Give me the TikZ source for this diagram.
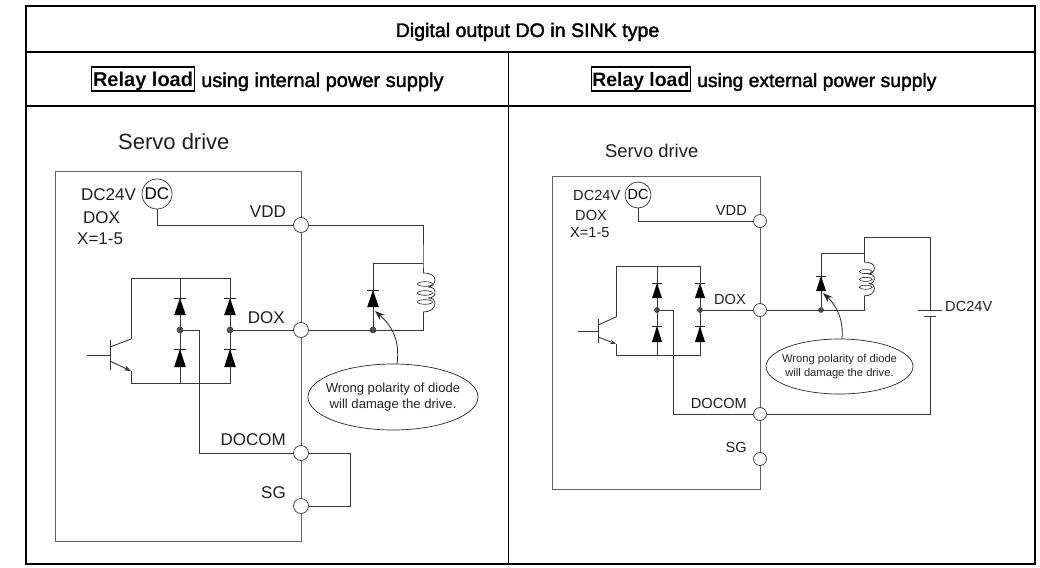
\documentclass[tikz,border=0pt]{standalone}
\usepackage{fontspec}
\setmainfont{Liberation Sans}
\newfontfamily\headfont[FakeBold=1.8]{Liberation Sans}
\usetikzlibrary{shapes.geometric,arrows.meta}
\tikzset{
  tbl/.style={line width=1.6pt,black},
  boxline/.style={line width=1pt,black!62},
  wire/.style={line width=0.9pt,black!78},
  term/.style={circle,draw=black!72,line width=0.8pt,fill=white,inner sep=0pt,minimum size=#1},
  jdot/.style={circle,draw=black!80,line width=0.5pt,fill=black!65,inner sep=0pt,minimum size=#1},
  dcsrc/.style={circle,draw=black!80,line width=0.7pt,fill=white,inner sep=0pt,minimum size=#1},
  lbl/.style={inner sep=0pt,text=black!88},
  head/.style={inner sep=0pt},
  relay/.style={draw,line width=1.1pt,inner xsep=#1,inner ysep=1pt,text height=19pt,text depth=3pt},
  note/.style={ellipse,draw=black!85,line width=0.7pt,inner sep=0pt},
  notetext/.style={inner sep=0pt,align=center,text=black!85},
  pointer/.style={line width=0.8pt,black!85,-{Stealth[length=10pt,width=7pt]}}
}
\newcommand{\diodeup}[4]{%
  \fill[black] (#1,#2) -- (#1+#4,#3) -- (#1-#4,#3) -- cycle;
  \draw[line width=0.7pt,black!85] (#1-#4,#2) -- (#1+#4,#2);}
\newcommand{\relaycoil}{%
  \draw[line width=0.7pt,black!85] (0,0) .. controls (8,0) and (12,3) .. (12,7) .. controls (12,11) and (8,14) .. (5,14)
    (5,14) .. controls (10,14) and (12,16) .. (12,20) .. controls (12,23) and (9,25) .. (5,25)
    (5,25) .. controls (10,25) and (12,27) .. (12,30) .. controls (12,36) and (7,39) .. (0,39);
  \draw[line width=0.6pt,black!85] (2,11) ellipse (7.5 and 2.3) (2,20) ellipse (7.5 and 2.3) (2,29) ellipse (7.5 and 2.3);}
\begin{document}
\begin{tikzpicture}[x=1pt,y=-1pt]
\useasboundingbox (0,0) rectangle (1040,567);
\fill[white] (0,0) rectangle (1040,567);
% table
\draw[tbl] (26,6) rectangle (1035,564);
\draw[tbl] (26,52) -- (1035,52) (26,106) -- (1035,106) (508.5,52) -- (508.5,564);
\node[head,anchor=base,font=\headfont\fontsize{19.6}{22}\selectfont] (title) at (527.5,37) {Digital output DO in SINK type};
\node[relay=1.5pt,anchor=base west,font=\bfseries\fontsize{20}{22}\selectfont] (relL) at (91,87) {Relay load};
\node[head,anchor=base west,font=\headfont\fontsize{20}{22}\selectfont] (hdrL) at (201,87) {using internal power supply};
\node[relay=0.8pt,anchor=base west,font=\bfseries\fontsize{19.4}{22}\selectfont] (relR) at (591,87) {Relay load};
\node[head,anchor=base west,font=\headfont\fontsize{19.3}{22}\selectfont] (hdrR) at (697,87) {using external power supply};

% ---------- left panel ----------
\draw[boxline] (55.5,171) rectangle (301,541);
\node[lbl,anchor=base west,font=\fontsize{22}{24}\selectfont] (sdL) at (118,149) {Servo drive};
\node[dcsrc=30pt,font=\fontsize{17}{20}\selectfont] (dcL) at (157,194) {DC};
\node[term=15pt] (vddL) at (301,225) {};
\node[term=15pt] (doxL) at (301,330) {};
\node[term=15pt] (docomL) at (301,453) {};
\node[term=15pt] (sgL) at (301,506) {};
\begin{scope}[font=\fontsize{17}{20}\selectfont]
\node[lbl,anchor=base west] (t1) at (81,200) {DC24V};
\node[lbl,anchor=base west] (t2) at (83,223) {DOX};
\node[lbl,anchor=base west] (t3) at (77,244) {X=1-5};
\node[lbl,anchor=base east] (t4) at (286,217) {VDD};
\node[lbl,anchor=base east] (t5) at (285,323) {DOX};
\node[lbl,anchor=base east] (t6) at (286,445) {DOCOM};
\node[lbl,anchor=base east] (t7) at (286,498) {SG};
\end{scope}
\coordinate (a1) at (157,225);
\coordinate (a2) at (423,225);
\coordinate (a3) at (423,263);
\coordinate (a4) at (373,263);
\coordinate (a5) at (423,273);
\coordinate (a6) at (423,312);
\coordinate (a7) at (423,330);
\node[jdot=6pt] (dL3) at (373,330) {};
\node[jdot=6pt] (dL2) at (230,330) {};
\node[jdot=6pt] (dL1) at (180,330) {};
\coordinate (b1) at (199,330);
\coordinate (b2) at (199,453);
\coordinate (c1) at (350,453);
\coordinate (c2) at (350,506);
\coordinate (q1) at (131,278);
\coordinate (q2) at (180,278);
\coordinate (q3) at (230,278);
\coordinate (q4) at (131,339);
\coordinate (q5) at (110,347);
\coordinate (q6) at (110,361);
\coordinate (q7) at (131,371);
\coordinate (q8) at (131,383);
\coordinate (q9) at (180,383);
\coordinate (q10) at (230,383);
\draw[wire] (dcL) -- (a1) -- (vddL);
\draw[wire] (vddL) -- (a2) -- (a3) -- (a5);
\draw[wire] (a6) -- (a7) -- (doxL);
\draw[wire] (a3) -- (a4) -- (dL3);
\draw[wire] (doxL) -- (dL2);
\draw[wire] (dL1) -- (b1) -- (b2) -- (docomL);
\draw[wire] (docomL) -- (c1) -- (c2) -- (sgL);
\draw[wire] (q4) -- (q1) -- (q3) -- (q10) -- (q8) -- (q7);
\draw[wire] (q2) -- (q9);
\draw[wire] (q4) -- (q5);
\draw[wire] (110,340) -- (110,370);
\draw[wire] (87,355) -- (110,355);
\draw[wire,-{Stealth[length=7pt,width=5pt]}] (q6) -- (q7);
\diodeup{180}{298}{315}{5.8}
\diodeup{230}{298}{315}{5.8}
\diodeup{180}{349}{367}{5.8}
\diodeup{230}{349}{367}{5.8}
\diodeup{373}{290}{307}{5.8}
\begin{scope}[shift={(423,273)}]\relaycoil\end{scope}
\node[note,minimum width=170pt,minimum height=66pt] (noteL) at (393,397) {};
\node[notetext,font=\fontsize{13.1}{16}\selectfont] (noteLt) at (noteL.center) {Wrong polarity of diode\\will damage the drive.};
\coordinate (tipL) at (375,311);
\draw[pointer] (noteL.83) .. controls (400,340) and (392,326) .. (tipL);

% ---------- right panel ----------
\draw[boxline] (552,176) rectangle (760,489);
\node[lbl,anchor=base west,font=\fontsize{18.4}{22}\selectfont] (sdR) at (605,157) {Servo drive};
\node[dcsrc=26pt,font=\fontsize{14.5}{18}\selectfont] (dcR) at (638,195) {DC};
\node[term=13pt] (vddR) at (760,221) {};
\node[term=13pt] (doxR) at (760,310) {};
\node[term=13pt] (docomR) at (760,414) {};
\node[term=13pt] (sgR) at (760,459) {};
\begin{scope}[font=\fontsize{14.6}{18}\selectfont]
\node[lbl,anchor=base west] (u1) at (573,200) {DC24V};
\node[lbl,anchor=base west] (u2) at (575,220) {DOX};
\node[lbl,anchor=base west] (u3) at (570,237) {X=1-5};
\node[lbl,anchor=base east] (u4) at (747,215) {VDD};
\node[lbl,anchor=base east] (u5) at (746,304) {DOX};
\node[lbl,anchor=base east] (u6) at (747,408) {DOCOM};
\node[lbl,anchor=base east] (u7) at (747,452) {SG};
\node[lbl,anchor=base west] (u8) at (945,311) {DC24V};
\end{scope}
\coordinate (e1) at (638,221);
\node[jdot=5pt] (dR3) at (821,310) {};
\node[jdot=5pt] (dR2) at (700,310) {};
\node[jdot=5pt] (dR1) at (657,310) {};
\coordinate (f1) at (864,296);
\coordinate (f2) at (864,310);
\coordinate (f3) at (864,262);
\coordinate (f4) at (864,253);
\coordinate (f5) at (864,237);
\coordinate (f6) at (930,237);
\coordinate (f7) at (821,253);
\coordinate (g1) at (930,310);
\coordinate (g2) at (930,316);
\coordinate (g3) at (930,414);
\coordinate (h1) at (673,310);
\coordinate (h2) at (673,414);
\coordinate (r1) at (616,266);
\coordinate (r2) at (657,266);
\coordinate (r3) at (700,266);
\coordinate (r4) at (616,317);
\coordinate (r5) at (598,325);
\coordinate (r6) at (598,337);
\coordinate (r7) at (616,344);
\coordinate (r8) at (616,355);
\coordinate (r9) at (657,355);
\coordinate (r10) at (700,355);
\draw[wire] (dcR) -- (e1) -- (vddR);
\draw[wire] (doxR) -- (dR2);
\draw[wire] (doxR) -- (f2) -- (f1);
\draw[wire] (f3) -- (f5) -- (f6) -- (g1);
\draw[wire] (f4) -- (f7) -- (dR3);
\draw[wire] (g2) -- (g3) -- (docomR);
\draw[wire] (918,310) -- (942,310);
\draw[wire] (924,316) -- (936,316);
\draw[wire] (dR1) -- (h1) -- (h2) -- (docomR);
\draw[wire] (r4) -- (r1) -- (r3) -- (r10) -- (r8) -- (r7);
\draw[wire] (r2) -- (r9);
\draw[wire] (r4) -- (r5);
\draw[wire] (598,319) -- (598,343);
\draw[wire] (578,331) -- (598,331);
\draw[wire,-{Stealth[length=6pt,width=4.5pt]}] (r6) -- (r7);
\diodeup{657}{283}{298}{5}
\diodeup{700}{283}{298}{5}
\diodeup{657}{326}{342}{5}
\diodeup{700}{326}{342}{5}
\diodeup{821}{276}{291}{5}
\begin{scope}[shift={(864,262)},scale=0.87]\relaycoil\end{scope}
\node[note,minimum width=147pt,minimum height=55pt] (noteR) at (839.5,366.5) {};
\node[notetext,font=\fontsize{11.2}{14}\selectfont] (noteRt) at (noteR.center) {Wrong polarity of diode\\will damage the drive.};
\coordinate (tipR) at (823,293);
\draw[pointer] (noteR.85) .. controls (844,320) and (836,305) .. (tipR);
\end{tikzpicture}
\end{document}
